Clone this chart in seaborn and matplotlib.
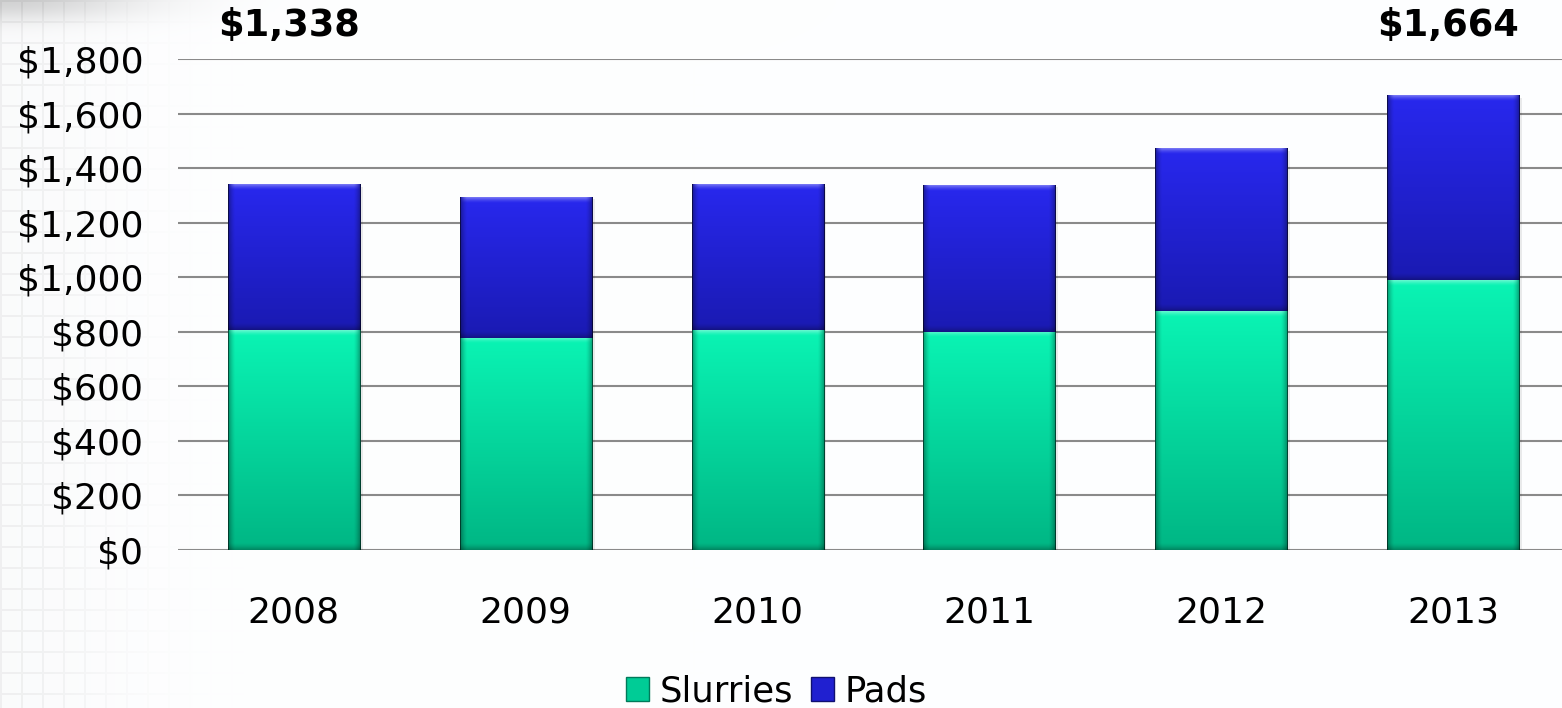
import numpy as np
import pandas as pd
import matplotlib
matplotlib.use("Agg")
import matplotlib.pyplot as plt
import matplotlib.transforms as mtransforms
from matplotlib.patches import Patch
from matplotlib.ticker import FuncFormatter, MultipleLocator
import seaborn as sns

# Revenue by product line ($M)
years = ["2008", "2009", "2010", "2011", "2012", "2013"]
slurries = [805, 778, 805, 800, 876, 988]
pads = [533, 515, 535, 538, 594, 676]
totals = [s + p for s, p in zip(slurries, pads)]
labeled_years = ["2008", "2013"]

df = pd.DataFrame({"year": years, "Slurries": slurries, "Pads": pads, "Total": totals})

sns.set_theme(style="white")
plt.rcParams["font.family"] = ["DejaVu Sans"]
plt.rcParams["text.color"] = "black"

W, H = 1562, 708
fig = plt.figure(figsize=(W / 100, H / 100), dpi=100)
fig.patch.set_facecolor("white")

# Slide backdrop: faint grid texture fading out from the left edge
bg = fig.add_axes([0, 0, 1, 1], zorder=-1)
bg.axis("off")
yy, xx = np.mgrid[0:H, 0:W]
grid = ((xx % 21 < 2) | (yy % 21 < 2)).astype(float)
fade = np.exp(-(xx / 120.0) ** 2)
shade = 1 - 0.045 * grid * fade - 0.012 * fade
smudge = np.exp(-((xx / 140) ** 2 + (yy / 20) ** 2))
shade = shade - 0.16 * smudge
base = np.stack([shade * 0.995, shade * 0.997, shade], axis=-1)
bg.imshow(np.clip(base, 0, 1), extent=(0, 1, 0, 1), aspect="auto",
          interpolation="bilinear")
bg.set_xlim(0, 1)
bg.set_ylim(0, 1)

ax = fig.add_axes([178 / W, 158 / H, (W - 178) / W, 491 / H])
ax.set_facecolor("none")

bar_w = 0.57
slurry_top, slurry_bot = np.array([0x0A, 0xF4, 0xB4]) / 255, np.array([0x00, 0xB6, 0x84]) / 255
pad_top, pad_bot = np.array([0x28, 0x28, 0xEE]) / 255, np.array([0x1A, 0x1A, 0xB2]) / 255

# Stacked bars: the full height in the pad colour, slurries drawn over the lower part
sns.barplot(data=df, x="year", y="Total", color="#2020d0", width=bar_w,
            saturation=1, ax=ax, zorder=2, linewidth=0)
sns.barplot(data=df, x="year", y="Slurries", color="#00d49c", width=bar_w,
            saturation=1, ax=ax, zorder=3, linewidth=0)

ymax = 1800
ax.set_ylim(0, ymax)
ax.set_xlim(-0.5, 5.5 - 7 / 231.8)
px_per_unit = 491 / ymax
px_per_cat = (W - 178) / (6 - 7 / 231.8)


def bevel(top, bottom, w_px, h_px, edge=7):
    h = max(int(round(h_px)), 2)
    w = max(int(round(w_px)), 2)
    t = np.linspace(0, 1, h)[:, None, None]
    img = np.broadcast_to(top * (1 - t) + bottom * t, (h, w, 3)).copy()
    xs = np.arange(w)
    dx = np.minimum(xs, w - 1 - xs)
    side = np.clip(1 - dx / edge, 0, 1) ** 1.5
    img *= (1 - 0.35 * side[None, :, None])
    ys = np.arange(h)
    hi = np.clip(1 - ys / (edge * 0.8), 0, 1) ** 1.5
    img += (1 - img) * 0.35 * hi[:, None, None] * (1 - side[None, :, None])
    lo = np.clip(1 - (h - 1 - ys) / edge, 0, 1) ** 1.5
    img *= (1 - 0.25 * lo[:, None, None])
    img[:, 0] = img[:, 0] * 0.5
    img[:, -1] = img[:, -1] * 0.5
    return np.clip(img, 0, 1)


for p_tot, p_sl in zip(ax.containers[0], ax.containers[1]):
    x0 = p_tot.get_x()
    wdt = p_tot.get_width()
    s = p_sl.get_height()
    tot = p_tot.get_height()
    w_px = wdt * px_per_cat
    # soft drop shadow
    ax.add_patch(plt.Rectangle((x0 + 0.012, -8), wdt, tot, color="#000000",
                               alpha=0.08, zorder=1.5, linewidth=0))
    ax.imshow(bevel(slurry_top, slurry_bot, w_px, s * px_per_unit),
              extent=(x0, x0 + wdt, 0, s), aspect="auto", zorder=4,
              interpolation="bilinear")
    ax.imshow(bevel(pad_top, pad_bot, w_px, (tot - s) * px_per_unit),
              extent=(x0, x0 + wdt, s, tot), aspect="auto", zorder=4,
              interpolation="bilinear")

ax.set_ylim(0, ymax)
ax.set_xlim(-0.5, 5.5 - 7 / 231.8)

# Gridlines and axis styling
ax.yaxis.set_major_locator(MultipleLocator(200))
ax.yaxis.set_major_formatter(FuncFormatter(lambda v, _: f"${v:,.0f}"))
ax.grid(axis="y", color="#8a8a8a", linewidth=1.5, zorder=0)
ax.set_axisbelow(True)
for sp in ax.spines.values():
    sp.set_visible(False)
ax.tick_params(axis="y", length=0, pad=25, labelsize=26, labelcolor="black")
ax.tick_params(axis="x", length=0, pad=33, labelsize=26, labelcolor="black")
ax.set_xlabel("")
ax.set_ylabel("")

# Totals above the first and last year
trans = mtransforms.blended_transform_factory(ax.transData, ax.transAxes)
for i, (yr, tot) in enumerate(zip(years, totals)):
    if yr in labeled_years:
        ax.text(i - 0.02, 1.069, f"${tot:,.0f}", transform=trans, ha="center",
                va="center", fontsize=26.5, fontweight="bold", color="black")

handles = [Patch(facecolor="#00cc96", edgecolor="#007a5a", label="Slurries"),
           Patch(facecolor="#2020d0", edgecolor="#101070", label="Pads")]
leg = fig.legend(handles=handles, loc="center", bbox_to_anchor=(0.497, 0.023), ncol=2,
                 frameon=False, fontsize=25.5, handlelength=0.65, handleheight=0.65,
                 handletextpad=0.3, columnspacing=0.5)
for t in leg.get_texts():
    t.set_color("black")

fig.savefig("out.png", dpi=100, facecolor="white")
